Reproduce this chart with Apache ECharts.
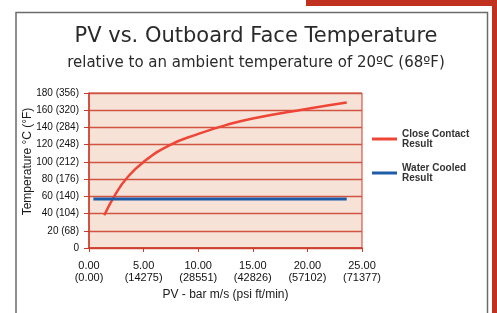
<!DOCTYPE html>
<html>
<head>
<meta charset="utf-8">
<script src="https://cdn.jsdelivr.net/npm/echarts@6/dist/echarts.min.js"></script>
<style>
  html, body { margin: 0; padding: 0; background: #fff; }
  #chart { width: 497px; height: 313px; }
</style>
</head>
<body>
<div id="chart"></div>
<script>
// PV values (bar m/s) and face temperature (deg C)
var closeContactPV = [1.4, 2.4, 3.45, 5.0, 7.4, 9.9, 12.6, 15.0, 19.9, 23.6];
var closeContactTemp = [38, 62, 81, 100, 119.5, 132, 143, 150.5, 161.5, 169];
var waterCooledPV = [0.4, 23.6];
var waterCooledTemp = [57, 57];

var yTickLabels = ['0', '20 (68)', '40 (104)', '60 (140)', '80 (176)', '100 (212)',
  '120 (248)', '140 (284)', '160 (320)', '180 (356)'];
var xTickLabels = ['0.00\n(0.00)', '5.00\n(14275)', '10.00\n(28551)', '15.00\n(42826)',
  '20.00\n(57102)', '25.00\n(71377)'];

function pairs(xs, ys) {
  return xs.map(function (x, i) { return [x, ys[i]]; });
}

var chart = echarts.init(document.getElementById('chart'), null, { renderer: 'canvas' });

var option = {
  backgroundColor: '#fff',
  animation: false,
  title: {
    text: 'PV vs. Outboard Face Temperature',
    subtext: 'relative to an ambient temperature of 20ºC (68ºF)',
    left: 251,
    top: 21,
    textAlign: 'center',
    itemGap: 9,
    textStyle: { fontFamily: 'DejaVu Sans', fontSize: 21, fontWeight: 'normal', color: '#2a2a2a' },
    subtextStyle: { fontFamily: 'DejaVu Sans', fontSize: 15, color: '#2a2a2a' }
  },
  legend: {
    orient: 'vertical',
    left: 372,
    top: 129,
    padding: 0,
    itemGap: 14,
    itemWidth: 25,
    itemHeight: 3,
    icon: 'rect',
    textStyle: { fontFamily: 'Liberation Sans', fontSize: 10, fontWeight: 'bold', color: '#333', lineHeight: 10 },
    data: [
      { name: 'Close Contact\nResult', itemStyle: { color: '#ef4536' } },
      { name: 'Water Cooled\nResult', itemStyle: { color: '#1d5ca8' } }
    ]
  },
  grid: {
    left: 89, right: 135, top: 93, bottom: 65,
    show: true,
    backgroundColor: '#f7e2d8',
    borderColor: '#cc3b2b',
    borderWidth: 1
  },
  xAxis: {
    type: 'value',
    min: 0, max: 25, interval: 5,
    name: 'PV - bar m/s (psi ft/min)',
    nameLocation: 'middle',
    nameGap: 41,
    nameMoveOverlap: false,
    nameTextStyle: { fontFamily: 'Liberation Sans', fontSize: 12, color: '#1a1a1a' },
    axisLine: { lineStyle: { color: '#cc3b2b', width: 1.5 } },
    axisTick: { show: true, length: 4, lineStyle: { color: '#cc3b2b' } },
    splitLine: { show: false },
    axisLabel: {
      fontFamily: 'Liberation Sans', fontSize: 11, color: '#111', lineHeight: 12, margin: 12,
      formatter: function (v) { return xTickLabels[Math.round(v / 5)]; }
    }
  },
  yAxis: {
    type: 'value',
    min: 0, max: 180, interval: 20,
    name: 'Temperature °C (°F)',
    nameLocation: 'middle',
    nameGap: 55,
    nameMoveOverlap: false,
    nameTextStyle: { fontFamily: 'Liberation Sans', fontSize: 12, color: '#1a1a1a', padding: [0, 0, 0, 18] },
    axisLine: { show: true, lineStyle: { color: '#cc3b2b', width: 1.5 } },
    axisTick: { show: true, length: 5, lineStyle: { color: '#cc3b2b' } },
    splitLine: { show: true, lineStyle: { color: '#cf5540', width: 1.3 } },
    axisLabel: {
      fontFamily: 'Liberation Sans', fontSize: 10, color: '#111', margin: 10,
      formatter: function (v) { return yTickLabels[Math.round(v / 20)]; }
    }
  },
  series: [
    {
      name: 'Close Contact\nResult',
      type: 'line',
      smooth: true,
      showSymbol: false,
      lineStyle: { color: '#ef4536', width: 2.5 },
      itemStyle: { color: '#ef4536' },
      data: pairs(closeContactPV, closeContactTemp)
    },
    {
      name: 'Water Cooled\nResult',
      type: 'line',
      showSymbol: false,
      lineStyle: { color: '#1d5ca8', width: 3 },
      itemStyle: { color: '#1d5ca8' },
      data: pairs(waterCooledPV, waterCooledTemp)
    }
  ],
  graphic: [
    // red page accent, top right
    { type: 'rect', shape: { x: 306, y: 0, width: 191, height: 6 }, style: { fill: '#c0321f' }, silent: true },
    { type: 'rect', shape: { x: 492, y: 0, width: 5, height: 313 }, style: { fill: '#c0321f' }, silent: true },
    // gray frame around the chart
    { type: 'polyline', shape: { points: [[16, 313], [16, 12.5], [487.5, 12.5], [487.5, 313]] },
      style: { stroke: '#6b6b6b', lineWidth: 1.5, fill: null }, silent: true }
  ]
};

chart.setOption(option);
</script>
</body>
</html>
